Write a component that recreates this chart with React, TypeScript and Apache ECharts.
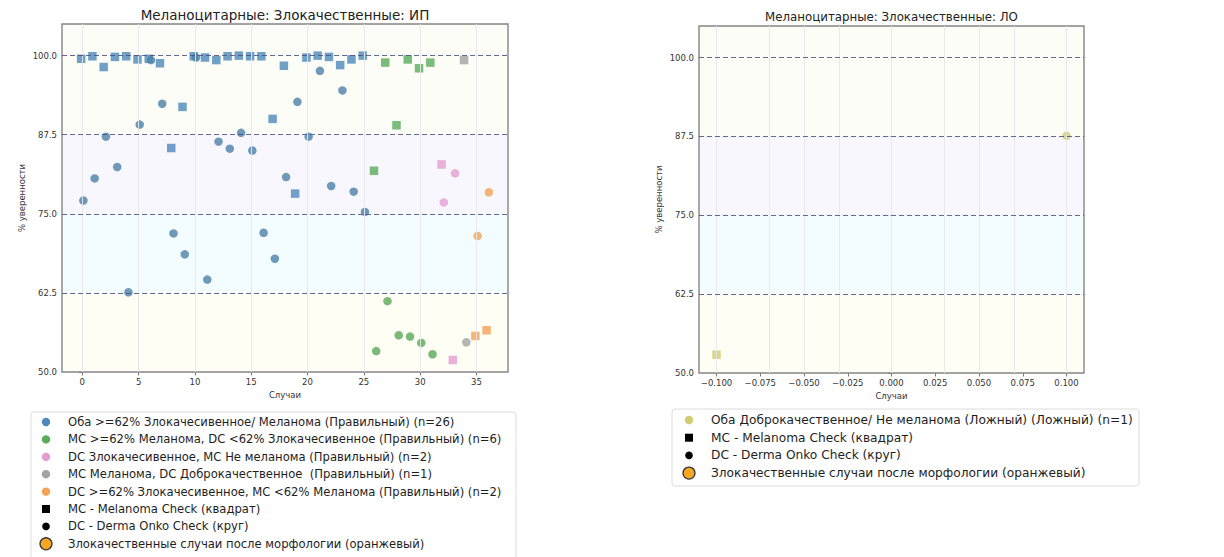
import React, { useEffect, useRef } from "react";
import * as echarts from "echarts";

const FONT = "DejaVu Sans, Verdana, sans-serif";

// Axis ticks
const yTicks = [50, 62.5, 75, 87.5, 100];
const thresholds = [62.5, 75, 87.5, 100];
const leftXTicks = [0, 5, 10, 15, 20, 25, 30, 35];
const rightXTicks = [-0.1, -0.075, -0.05, -0.025, 0, 0.025, 0.05, 0.075, 0.1];

// Left panel: malignant melanocytic cases (ИП)
const blueCases = [0, 1, 2, 3, 4, 5, 6, 7, 8, 9, 10, 11, 12, 13, 14, 15, 16, 17, 18, 19, 20, 21, 22, 23, 24, 25];
const blueMC = [99.5, 99.9, 98.2, 99.8, 99.9, 99.4, 99.5, 98.8, 85.4, 91.9, 99.9, 99.7, 99.3, 99.9, 100.0, 99.9, 99.9, 90.0, 98.4, 78.2, 99.7, 100.0, 99.8, 98.5, 99.4, 100.0];
const blueDC = [77.1, 80.6, 87.2, 82.4, 62.6, 89.1, 99.3, 92.4, 71.9, 68.6, 99.7, 64.6, 86.4, 85.3, 87.8, 85.0, 72.0, 67.9, 80.8, 92.7, 87.2, 97.6, 79.4, 94.5, 78.5, 75.3];

const greenCases = [26, 27, 28, 29, 30, 31];
const greenMC = [81.8, 98.9, 89.0, 99.4, 98.0, 98.9];
const greenDC = [53.3, 61.2, 55.8, 55.6, 54.6, 52.8];

const pinkCases = [32, 33];
const pinkMC = [82.8, 51.9];
const pinkDC = [76.8, 81.4];

const grayCases = [34];
const grayMC = [99.3];
const grayDC = [54.7];

const orangeCases = [35, 36];
const orangeMC = [55.7, 56.6];
const orangeDC = [71.5, 78.4];

// Right panel: false cases (ЛО)
const oliveCases = [0];
const oliveMC = [52.9];
const oliveDC = [87.6];

const leftLabels = [
  "Оба >=62% Злокачесивенное/ Меланома (Правильный) (n=26)",
  "MC >=62% Меланома, DC <62% Злокачесивенное (Правильный) (n=6)",
  "DC Злокачесивенное, MC Не меланома (Правильный) (n=2)",
  "MC Меланома, DC Доброкачественное  (Правильный) (n=1)",
  "DC >=62% Злокачесивенное, MC <62% Меланома (Правильный) (n=2)",
];
const rightLabels = ["Оба Доброкачественное/ Не меланома (Ложный) (Ложный) (n=1)"];
const markerLabels = [
  "MC - Melanoma Check (квадрат)",
  "DC - Derma Onko Check (круг)",
  "Злокачественные случаи после морфологии (оранжевый)",
];

type Group = { cases: number[]; mc: number[]; dc: number[]; color: string; dcColor: string; panel: number; label: string };

const groups: Group[] = [
  { cases: blueCases, mc: blueMC, dc: blueDC, color: "#4f88bb", dcColor: "#4c81a8", panel: 0, label: leftLabels[0] },
  { cases: greenCases, mc: greenMC, dc: greenDC, color: "#5aab5a", dcColor: "#5aa85a", panel: 0, label: leftLabels[1] },
  { cases: pinkCases, mc: pinkMC, dc: pinkDC, color: "#e39dd2", dcColor: "#e39dd2", panel: 0, label: leftLabels[2] },
  { cases: grayCases, mc: grayMC, dc: grayDC, color: "#a3a3a3", dcColor: "#a3a3a3", panel: 0, label: leftLabels[3] },
  { cases: orangeCases, mc: orangeMC, dc: orangeDC, color: "#f3a356", dcColor: "#f3a356", panel: 0, label: leftLabels[4] },
  { cases: oliveCases, mc: oliveMC, dc: oliveDC, color: "#cfcd72", dcColor: "#cfcd72", panel: 1, label: rightLabels[0] },
];

// MC squares sit slightly left of the case index, DC circles slightly right
const OFFSET = 0.1;

const bands = [
  { from: 87.5, to: 105, color: "#fbfdf6" },
  { from: 75, to: 87.5, color: "#f7f7fd" },
  { from: 62.5, to: 75, color: "#f3fcfe" },
  { from: 50, to: 62.5, color: "#fefef4" },
];

function buildOption() {
  const grids = [
    { left: 62, top: 24, width: 446, height: 348 },
    { left: 699, top: 26, width: 385, height: 347 },
  ].map((g) => ({ ...g, show: true, borderColor: "#858585", borderWidth: 1.4, backgroundColor: "transparent", z: 5 }));

  const axisLabel = { fontFamily: FONT, fontSize: 8.5, color: "#333" };
  const tickStyle = { length: 3.5, lineStyle: { color: "#555", width: 0.8 } };

  const xAxes = [
    { min: -1.8, max: 37.8, ticks: leftXTicks, fmt: (v: number) => String(v) },
    { min: -0.11, max: 0.11, ticks: rightXTicks, fmt: (v: number) => (v < 0 ? "\u2212" + Math.abs(v).toFixed(3) : v.toFixed(3)) },
  ].map((a, i) => ({
    type: "value",
    gridIndex: i,
    min: a.min,
    max: a.max,
    name: "Случаи",
    nameLocation: "middle",
    nameGap: 18,
    nameTextStyle: { fontFamily: FONT, fontSize: 8.5, color: "#333" },
    axisLine: { show: false },
    axisTick: { show: true, customValues: a.ticks, ...tickStyle },
    axisLabel: { ...axisLabel, customValues: a.ticks, formatter: a.fmt, margin: 5 },
    splitLine: { show: false },
  }));

  const yAxes = [0, 1].map((i) => ({
    type: "value",
    gridIndex: i,
    min: 50,
    max: 105,
    name: "% уверенности",
    nameLocation: "middle",
    nameGap: 36,
    nameRotate: 90,
    nameTextStyle: { fontFamily: FONT, fontSize: 8.5, color: "#333" },
    axisLine: { show: false },
    axisTick: { show: true, customValues: yTicks, ...tickStyle },
    axisLabel: { ...axisLabel, customValues: yTicks, formatter: (v: number) => v.toFixed(1), margin: 5 },
    splitLine: { show: false },
  }));

  const series: any[] = [];
  [0, 1].forEach((p) => {
    const ticks = p === 0 ? leftXTicks : rightXTicks;
    series.push({
      type: "scatter",
      xAxisIndex: p,
      yAxisIndex: p,
      data: [],
      z: 1,
      silent: true,
      markArea: {
        silent: true,
        data: bands.map((b) => [
          { yAxis: b.from, itemStyle: { color: b.color } },
          { yAxis: b.to },
        ]),
      },
      markLine: {
        silent: true,
        symbol: "none",
        label: { show: false },
        lineStyle: { color: "#e6e6ea", width: 0.9, type: "solid" },
        data: ticks.map((t) => ({ xAxis: t })),
      },
    });
    series.push({
      type: "scatter",
      xAxisIndex: p,
      yAxisIndex: p,
      data: [],
      z: 2,
      silent: true,
      markLine: {
        silent: true,
        symbol: "none",
        label: { show: false },
        lineStyle: { color: "#4a4f82", width: 1.2, type: [5, 3], opacity: 0.85 },
        data: thresholds.map((t) => ({ yAxis: t })),
      },
    });
  });

  groups.forEach((g) => {
    series.push({
      type: "scatter",
      xAxisIndex: g.panel,
      yAxisIndex: g.panel,
      symbol: "rect",
      symbolSize: 8.5,
      itemStyle: { color: g.color },
      z: 3,
      data: g.cases.map((c, i) => [c - OFFSET, g.mc[i]]),
    });
    series.push({
      type: "scatter",
      xAxisIndex: g.panel,
      yAxisIndex: g.panel,
      symbol: "circle",
      symbolSize: 8.5,
      itemStyle: { color: g.dcColor },
      z: 3,
      data: g.cases.map((c, i) => [c + OFFSET, g.dc[i]]),
    });
  });

  // Legend panels
  const legendText = (x: number, y: number, text: string, size: number) => ({
    type: "text",
    x,
    y,
    style: { text, fontFamily: FONT, fontSize: size, fill: "#1e1e1e", verticalAlign: "middle" },
  });
  const markerShapes = (x: number, y: number, k: number) => {
    if (k === 0) return { type: "rect", shape: { x: x - 4, y: y - 4, width: 8, height: 8 }, style: { fill: "#000" } };
    if (k === 1) return { type: "circle", shape: { cx: x, cy: y, r: 3.8 }, style: { fill: "#000" } };
    return { type: "circle", shape: { cx: x, cy: y, r: 6 }, style: { fill: "#f5a623", stroke: "#3a3a3a", lineWidth: 1.3 } };
  };

  const graphics: any[] = [];
  const buildLegend = (
    bx: number, by: number, bw: number, bh: number,
    mx: number, tx: number, y0: number, step: number, size: number, gs: Group[]
  ) => {
    graphics.push({ type: "rect", shape: { x: bx, y: by, width: bw, height: bh, r: 3 }, style: { fill: "#fff", stroke: "#dcdcdc", lineWidth: 1 } });
    let row = 0;
    gs.forEach((g) => {
      const y = y0 + row * step;
      graphics.push({ type: "circle", shape: { cx: mx, cy: y, r: 4.2 }, style: { fill: g.color } });
      graphics.push(legendText(tx, y, g.label, size));
      row++;
    });
    markerLabels.forEach((lbl, k) => {
      const y = y0 + row * step;
      graphics.push(markerShapes(mx, y, k));
      graphics.push(legendText(tx, y, lbl, size));
      row++;
    });
  };
  buildLegend(31, 412, 485, 160, 46, 68, 422, 17.4, 11.6, groups.filter((g) => g.panel === 0));
  buildLegend(672, 409, 467, 77, 689, 711, 420, 17.7, 12.2, groups.filter((g) => g.panel === 1));

  graphics.push({
    type: "text",
    x: 285,
    y: 15,
    style: { text: "Меланоцитарные: Злокачественные: ИП", fontFamily: FONT, fontSize: 13.5, fill: "#222", align: "center", verticalAlign: "middle" },
  });
  graphics.push({
    type: "text",
    x: 891.5,
    y: 17,
    style: { text: "Меланоцитарные: Злокачественные: ЛО", fontFamily: FONT, fontSize: 11.8, fill: "#222", align: "center", verticalAlign: "middle" },
  });

  return {
    animation: false,
    backgroundColor: "#ffffff",
    grid: grids,
    xAxis: xAxes,
    yAxis: yAxes,
    series,
    graphic: graphics,
  };
}

export default function App() {
  const ref = useRef<HTMLDivElement>(null);
  useEffect(() => {
    if (!ref.current) return;
    const chart = echarts.init(ref.current, undefined, { renderer: "svg" });
    chart.setOption(buildOption() as any);
    return () => chart.dispose();
  }, []);
  return <div ref={ref} style={{ position: "absolute", left: 0, top: 0, width: 1224, height: 557 }} />;
}
